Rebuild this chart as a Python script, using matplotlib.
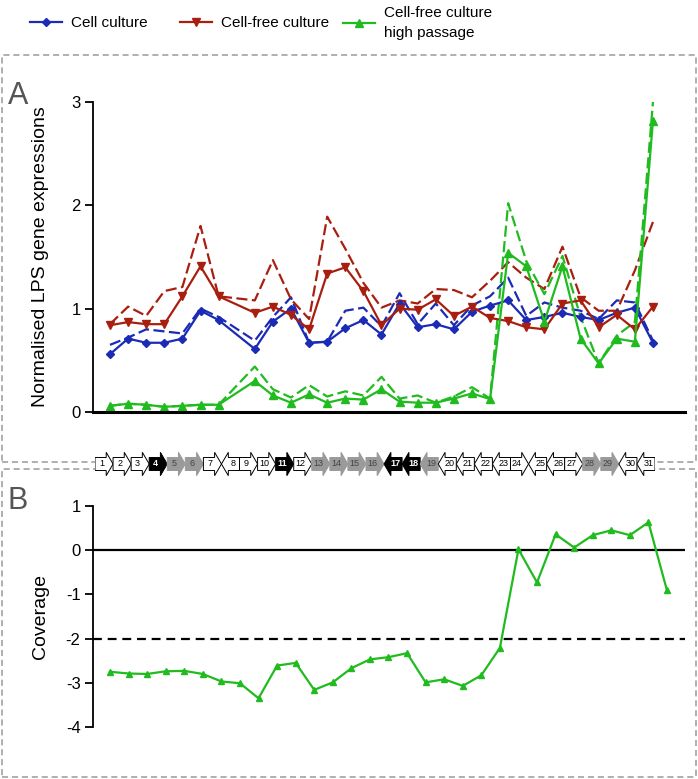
import matplotlib
matplotlib.use("Agg")
import matplotlib.pyplot as plt
from matplotlib.lines import Line2D
from matplotlib.patches import Rectangle, Polygon

plt.rcParams['font.family'] = ['Liberation Sans', 'DejaVu Sans']
plt.rcParams['axes.unicode_minus'] = False

# ----------------------------
# DATA
# ----------------------------
# gene 8 has no expression value in panel A
genes_a = [1, 2, 3, 4, 5, 6, 7, 9, 10, 11, 12, 13, 14, 15, 16, 17, 18, 19, 20, 21, 22, 23,
           24, 25, 26, 27, 28, 29, 30, 31]

cell = [0.56, 0.71, 0.67, 0.67, 0.71, 0.98, 0.89, 0.61, 0.875, 1.0, 0.67, 0.68, 0.81, 0.89, 0.75,
        1.05, 0.82, 0.85, 0.80, 0.97, 1.03, 1.08, 0.89, 0.92, 0.96, 0.92, 0.89, 0.96, 1.01, 0.67]
cell_dash = [0.65, 0.72, 0.80, 0.78, 0.76, 1.00, 0.92, 0.69, 0.92, 1.11, 0.67, 0.68, 0.98, 1.01, 0.83,
             1.15, 0.85, 1.05, 0.84, 1.03, 1.12, 1.30, 0.93, 1.06, 1.01, 0.98, 0.90, 1.08, 1.06, 0.69]
free = [0.84, 0.87, 0.85, 0.85, 1.12, 1.41, 1.12, 0.96, 1.02, 0.94, 0.80, 1.34, 1.40, 1.17, 0.84,
        1.00, 0.99, 1.09, 0.93, 1.02, 0.91, 0.88, 0.82, 0.80, 1.05, 1.08, 0.82, 0.94, 0.80, 1.02]
free_dash = [0.85, 1.02, 0.93, 1.17, 1.21, 1.80, 1.12, 1.08, 1.47, 1.09, 0.90, 1.89, 1.58, 1.25, 1.01,
             1.08, 1.05, 1.19, 1.18, 1.11, 1.27, 1.45, 1.30, 1.19, 1.60, 1.11, 0.98, 0.98, 1.37, 1.84]
high = [0.06, 0.08, 0.07, 0.05, 0.06, 0.07, 0.07, 0.30, 0.16, 0.09, 0.17, 0.09, 0.13, 0.12, 0.22,
        0.10, 0.09, 0.09, 0.13, 0.18, 0.125, 1.54, 1.41, 0.875, 1.41, 0.71, 0.47, 0.71, 0.68, 2.82]
high_dash = [0.06, 0.08, 0.07, 0.05, 0.06, 0.07, 0.07, 0.44, 0.22, 0.14, 0.26, 0.15, 0.20, 0.16, 0.34,
             0.13, 0.16, 0.09, 0.15, 0.24, 0.13, 2.02, 1.46, 1.14, 1.51, 0.92, 0.47, 0.74, 0.87, 3.0]

genes_b = list(range(1, 32))
coverage = [-2.75, -2.79, -2.80, -2.74, -2.73, -2.80, -2.97, -3.01, -3.35, -2.61, -2.55, -3.16,
            -2.99, -2.67, -2.47, -2.42, -2.33, -2.99, -2.92, -3.07, -2.83, -2.21, 0.02, -0.73,
            0.36, 0.06, 0.34, 0.45, 0.34, 0.63, -0.91]

# gene map: direction (1 right, -1 left) and shade (w white, g gray, k black)
gene_dir = [1, 1, 1, 1, 1, 1, 1, -1, 1, 1, 1, 1, 1, 1, 1, 1, -1, -1, -1, -1, -1, -1, -1, 1,
            -1, -1, 1, 1, 1, -1, -1]
gene_shade = "wwwkggwwwwkwggggkkgwwwwwwwwggww"

BLUE = "#1b2bb5"
RED = "#a81f10"
GREEN = "#20bb1e"

# ----------------------------
# FIGURE
# ----------------------------
W, H = 698, 779
fig = plt.figure(figsize=(W / 100, H / 100), dpi=100)


def fbox(x0, y0, x1, y1):
    # pixel box (top-left origin) -> figure fraction rect
    return [x0 / W, 1 - y1 / H, (x1 - x0) / W, (y1 - y0) / H]


# dashed panel frames
for (x0, y0, x1, y1) in [(2, 55, 696, 462), (2, 469, 696, 777)]:
    fig.add_artist(Rectangle((x0 / W, 1 - y1 / H), (x1 - x0) / W, (y1 - y0) / H,
                             transform=fig.transFigure, fill=False, ec="#9a9a9a",
                             lw=1.1, ls=(0, (4, 2.5)), zorder=0))

# ----------------------------
# PANEL A
# ----------------------------
axA = fig.add_axes(fbox(93, 102, 685, 412))
axA.plot(genes_a, cell_dash, ls=(0, (5, 2)), color=BLUE, lw=1.6)
axA.plot(genes_a, free_dash, ls=(0, (5, 2)), color=RED, lw=1.6)
axA.plot(genes_a, high_dash, ls=(0, (5, 2)), color=GREEN, lw=1.6, clip_on=False)
axA.plot(genes_a, cell, '-D', color=BLUE, lw=1.6, ms=4)
axA.plot(genes_a, free, '-v', color=RED, lw=1.6, ms=6)
axA.plot(genes_a, high, '-^', color=GREEN, lw=1.6, ms=6, clip_on=False)
axA.set_xlim(0.06, 32.77)
axA.set_ylim(0, 3)
axA.set_yticks([0, 1, 2, 3])
axA.set_xticks([])
for s in ["top", "right"]:
    axA.spines[s].set_visible(False)
axA.spines["left"].set_linewidth(1.3)
axA.spines["bottom"].set_linewidth(2.2)
axA.tick_params(axis="y", direction="out", length=6, width=1.3, labelsize=12, pad=3)
axA.set_ylabel("Normalised LPS gene expressions", fontsize=14)
axA.yaxis.set_label_coords(-0.075, 0.5)
axA.patch.set_alpha(0)

fig.text(8 / W, 1 - 104 / H, "A", fontsize=22, color="#555555", ha="left", va="baseline")

# ----------------------------
# PANEL B
# ----------------------------
axB = fig.add_axes(fbox(93, 506, 685, 727))
axB.axhline(0, color="black", lw=1.6)
axB.axhline(-2, color="black", lw=1.6, ls=(0, (4, 2.6)))
axB.plot(genes_b, coverage, '-^', color=GREEN, lw=1.6, ms=5)
axB.set_xlim(0.085, 31.97)
axB.set_ylim(-4, 1)
axB.set_yticks([1, 0, -1, -2, -3, -4])
axB.set_xticks([])
for s in ["top", "right", "bottom"]:
    axB.spines[s].set_visible(False)
axB.spines["left"].set_linewidth(1.3)
axB.tick_params(axis="y", direction="out", length=6, width=1.3, labelsize=12, pad=3)
axB.set_ylabel("Coverage", fontsize=14)
axB.yaxis.set_label_coords(-0.075, 0.5)
axB.patch.set_alpha(0)

fig.text(8 / W, 1 - 509 / H, "B", fontsize=22, color="#555555", ha="left", va="baseline")

# ----------------------------
# GENE MAP
# ----------------------------
axG = fig.add_axes(fbox(95, 451, 655, 477), zorder=5)
axG.set_xlim(0, 31)
axG.set_ylim(-1, 1)
axG.axis("off")
axG.add_patch(Rectangle((0, -1), 31, 2, fc="white", ec="none"))
body, head, neck = 0.5, 0.9, 0.62
for i, (d, sh) in enumerate(zip(gene_dir, gene_shade)):
    x0 = i
    if d > 0:
        pts = [(x0, -body), (x0 + neck, -body), (x0 + neck, -head), (x0 + 1, 0),
               (x0 + neck, head), (x0 + neck, body), (x0, body)]
        tx = x0 + neck / 2 + 0.05
    else:
        pts = [(x0 + 1, -body), (x0 + 1 - neck, -body), (x0 + 1 - neck, -head), (x0, 0),
               (x0 + 1 - neck, head), (x0 + 1 - neck, body), (x0 + 1, body)]
        tx = x0 + 1 - neck / 2 - 0.05
    fc = {"w": "white", "g": "#9a9a9a", "k": "black"}[sh]
    ec = {"w": "black", "g": "#9a9a9a", "k": "black"}[sh]
    tc = {"w": "black", "g": "#444444", "k": "white"}[sh]
    axG.add_patch(Polygon(pts, closed=True, fc=fc, ec=ec, lw=0.7))
    axG.text(tx, 0, str(i + 1), fontsize=6.5, color=tc, ha="center", va="center",
             fontweight="bold" if sh == "k" else "normal")

# ----------------------------
# LEGEND
# ----------------------------
items = [
    (Line2D([], [], color=BLUE, marker="D", ms=4, lw=1.6), "Cell culture", 30 / W),
    (Line2D([], [], color=RED, marker="v", ms=6, lw=1.6), "Cell-free culture", 180 / W),
    (Line2D([], [], color=GREEN, marker="^", ms=6, lw=1.6), "Cell-free culture\nhigh passage", 343 / W),
]
for h, lab, x in items:
    leg = fig.legend([h], [lab], loc="center left", bbox_to_anchor=(x, 1 - 23 / H),
                     frameon=False, fontsize=11, handlelength=2.1, handletextpad=0.6,
                     borderpad=0, borderaxespad=0)
    leg.get_texts()[0].set_linespacing(1.55)

fig.savefig("out.png", dpi=100)
